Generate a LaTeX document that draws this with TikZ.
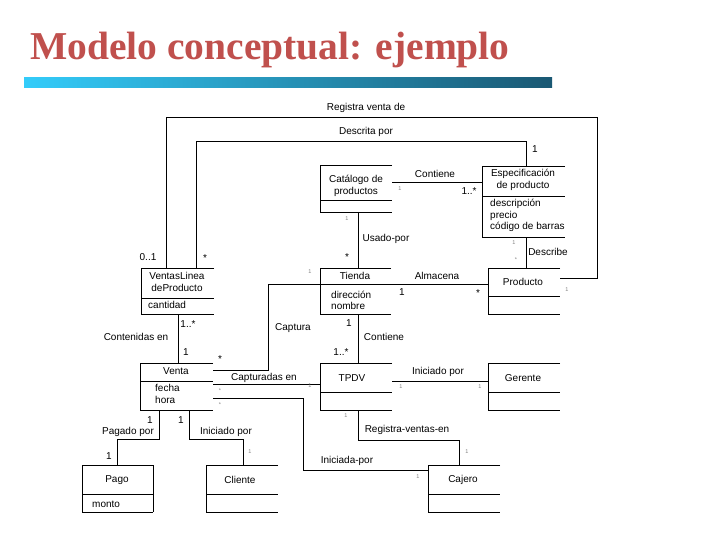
\documentclass[tikz,border=0pt]{standalone}
\usepackage{fontspec}
\setmainfont{Liberation Sans}
\newfontfamily\titlefont{Liberation Serif}
\usetikzlibrary{fit}
\definecolor{titlered}{RGB}{192,80,77}
\definecolor{barleft}{RGB}{51,204,250}
\definecolor{barright}{RGB}{26,88,115}
\newcommand\umlcls[6]{%
  \node[cls, fit={(#2,#3) (#5,#6)}] (#1) {};
  \draw[boxline] (#1.north east) -- (#1.north west) -- (#1.south west) -- (#1.south east);
  \draw[boxline] (#2,#4) -- (#5,#4);
}
\begin{document}
\begin{tikzpicture}[x=1pt,y=-1pt,
  conn/.style={line width=0.9pt},
  boxline/.style={line width=0.9pt},
  cls/.style={inner sep=0pt, outer sep=0pt},
  lbl/.style={font=\fontsize{10}{11.5}\selectfont, inner sep=0pt},
  attr/.style={lbl, anchor=west, align=left},
  mult/.style={font=\fontsize{10}{11.5}\selectfont, inner sep=0pt},
  faint/.style={font=\fontsize{5.5}{6}\selectfont, inner sep=0pt, text=black!50},
]
\useasboundingbox (0,0) rectangle (720,540);
\fill[white] (0,0) rectangle (720,540);

% title and bar
\node[anchor=base west, inner sep=0pt, text=titlered,
      font=\titlefont\fontsize{39.5}{40}\selectfont\bfseries] (title) at (30,60) {Modelo conceptual: ejemplo};
\shade[left color=barleft, right color=barright] (24,78) rectangle (552,88);

% classes
\umlcls{cat}{320}{165}{200}{392}{212}
\umlcls{esp}{482}{166}{196}{565}{237}
\umlcls{vl}{141}{268}{298}{214}{314}
\umlcls{tienda}{320}{268}{284}{391}{314}
\umlcls{prod}{488}{268}{296}{560}{314}
\umlcls{venta}{140}{363}{381}{213}{410}
\umlcls{tpdv}{320}{363}{392}{392}{410}
\umlcls{ger}{488}{363}{392}{560}{410}
\umlcls{pago}{82}{465}{494}{153}{512}
\draw[boxline] (pago.north east) -- (pago.south east);
\umlcls{cli}{206}{465}{494}{278}{512}
\umlcls{caj}{428}{465}{494}{500}{512}

% class texts
\node[lbl, align=center] (catT) at (356,186) {Catálogo de\\productos};
\node[lbl, align=center] (espT) at (523,180) {Especificación\\de producto};
\node[attr] (espA) at (490,215.5) {descripción\\precio\\código de barras};
\node[lbl, align=center] (vlT) at (177,282) {VentasLinea\\deProducto};
\node[attr] (vlA) at (148,305) {cantidad};
\node[lbl] (tiendaT) at (355,276) {Tienda};
\node[attr] (tiendaA) at (331,300.5) {dirección\\nombre};
\node[lbl] (prodT) at (523,282) {Producto};
\node[lbl] (ventaT) at (176,371) {Venta};
\node[attr] (ventaA) at (155,394) {fecha\\hora};
\node[lbl] (tpdvT) at (352,378) {TPDV};
\node[lbl] (gerT) at (523,378) {Gerente};
\node[lbl] (pagoT) at (117,480) {Pago};
\node[attr] (pagoA) at (92,504) {monto};
\node[lbl] (cliT) at (240,480) {Cliente};
\node[lbl] (cajT) at (463,480) {Cajero};

% bend coordinates
\coordinate (rvA) at (166,117); \coordinate (rvB) at (597,117); \coordinate (rvC) at (597,278);
\coordinate (dpA) at (196,141); \coordinate (dpB) at (526,141);
\coordinate (ctY) at (0,182);
\coordinate (upX) at (358,0);
\coordinate (dsX) at (526,0);
\coordinate (alY) at (0,284);
\coordinate (caA) at (268,284); \coordinate (caB) at (268,370);
\coordinate (ceX) at (178,0);
\coordinate (cpY) at (0,384);
\coordinate (iaA) at (303,398); \coordinate (iaB) at (303,470);
\coordinate (pgA) at (159,439); \coordinate (pgB) at (117,439);
\coordinate (icA) at (189,439); \coordinate (icB) at (243,439);
\coordinate (igY) at (0,381);
\coordinate (rsA) at (358,440); \coordinate (rsB) at (459,440);

% connectors
\draw[conn] (vl.north -| rvA) -- (rvA) -- (rvB) -- (rvC) -- (prod.east |- rvC);
\draw[conn] (vl.north -| dpA) -- (dpA) -- (dpB) -- (esp.north -| dpB);
\draw[conn] (cat.east |- ctY) -- (esp.west |- ctY);
\draw[conn] (cat.south -| upX) -- (tienda.north -| upX);
\draw[conn] (esp.south -| dsX) -- (prod.north -| dsX);
\draw[conn] (tienda.east |- alY) -- (prod.west |- alY);
\draw[conn] (tienda.west |- caA) -- (caA) -- (caB) -- (venta.east |- caB);
\draw[conn] (tienda.south -| upX) -- (tpdv.north -| upX);
\draw[conn] (vl.south -| ceX) -- (venta.north -| ceX);
\draw[conn] (venta.east |- cpY) -- (tpdv.west |- cpY);
\draw[conn] (venta.east |- iaA) -- (iaA) -- (iaB) -- (caj.west |- iaB);
\draw[conn] (venta.south -| pgA) -- (pgA) -- (pgB) -- (pago.north -| pgB);
\draw[conn] (venta.south -| icA) -- (icA) -- (icB) -- (cli.north -| icB);
\draw[conn] (tpdv.east |- igY) -- (ger.west |- igY);
\draw[conn] (tpdv.south -| rsA) -- (rsA) -- (rsB) -- (caj.north -| rsB);

% association labels
\node[lbl] (l1) at (366,108) {Registra venta de};
\node[lbl] (l2) at (366,132) {Descrita por};
\node[lbl] (l3) at (435,174) {Contiene};
\node[lbl] (l4) at (386,239) {Usado-por};
\node[lbl] (l5) at (548,252) {Describe};
\node[lbl] (l6) at (437,276) {Almacena};
\node[lbl] (l7) at (293,328) {Captura};
\node[lbl] (l8) at (384,337) {Contiene};
\node[lbl] (l9) at (136,337) {Contenidas en};
\node[lbl] (l10) at (264,378) {Capturadas en};
\node[lbl] (l11) at (347,461) {Iniciada-por};
\node[lbl] (l12) at (128,432) {Pagado por};
\node[lbl] (l13) at (226,432) {Iniciado por};
\node[lbl] (l14) at (438,372) {Iniciado por};
\node[lbl] (l15) at (407,430) {Registra-ventas-en};

% multiplicities
\node[mult] (m1) at (148,257) {0..1};
\node[mult] (m2) at (205,258) {*};
\node[mult] (m3) at (535,149) {1};
\node[mult] (m4) at (469,191) {1..*};
\node[mult] (m5) at (347,257) {*};
\node[mult] (m6) at (402,292) {1};
\node[mult] (m7) at (478,293) {*};
\node[mult] (m8) at (220,359) {*};
\node[mult] (m9) at (349,323) {1};
\node[mult] (m10) at (341,352) {1..*};
\node[mult] (m11) at (188,324) {1..*};
\node[mult] (m12) at (186,352) {1};
\node[mult] (m13) at (150,420) {1};
\node[mult] (m14) at (109,456) {1};
\node[mult] (m15) at (181,420) {1};

% faint multiplicities
\node[faint] (f1) at (400,189) {1};
\node[faint] (f2) at (347,219) {1};
\node[faint] (f3) at (310,272) {1};
\node[faint] (f4) at (514,243) {1};
\node[faint] (f5) at (516,260) {*};
\node[faint] (f6) at (567,290) {1};
\node[faint] (f7) at (220,391) {*};
\node[faint] (f8) at (310,386) {1};
\node[faint] (f9) at (220,405) {*};
\node[faint] (f10) at (418,477) {1};
\node[faint] (f11) at (250,452) {1};
\node[faint] (f12) at (401,387) {1};
\node[faint] (f13) at (480,387) {1};
\node[faint] (f14) at (346,416) {1};
\node[faint] (f15) at (467,452) {1};
\end{tikzpicture}
\end{document}
